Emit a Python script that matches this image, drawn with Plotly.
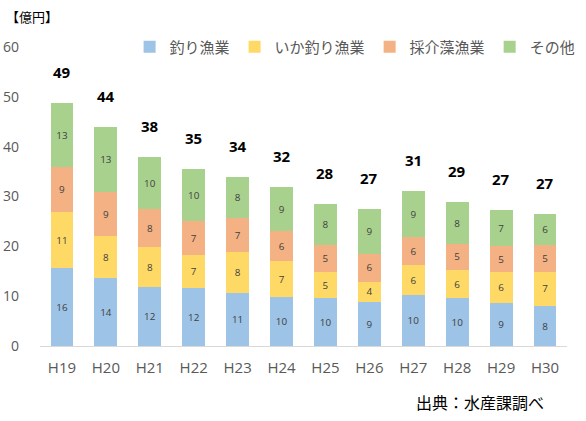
import plotly.graph_objects as go

years = ["H19", "H20", "H21", "H22", "H23", "H24", "H25", "H26", "H27", "H28", "H29", "H30"]
tsuri = [15.6, 13.7, 11.8, 11.6, 10.7, 9.9, 9.6, 8.9, 10.2, 9.6, 8.7, 8.1]
ika = [11.2, 8.3, 8.1, 6.7, 8.1, 7.1, 5.2, 4.0, 6.0, 5.7, 6.1, 6.8]
saikaiso = [9.1, 9.0, 7.6, 6.8, 6.8, 6.1, 5.4, 5.6, 5.6, 5.2, 5.2, 5.4]
sonota = [12.9, 12.9, 10.4, 10.4, 8.4, 8.8, 8.3, 8.9, 9.4, 8.4, 7.3, 6.2]
total_labels = [49, 44, 38, 35, 34, 32, 28, 27, 31, 29, 27, 27]

series = [
    ("釣り漁業", tsuri, "#9DC3E6"),
    ("いか釣り漁業", ika, "#FFD966"),
    ("採介藻漁業", saikaiso, "#F4B183"),
    ("その他", sonota, "#A9D18E"),
]

JP = "Noto Sans CJK JP"
NUM = "Open Sans"
fig = go.Figure()
for name, vals, color in series:
    fig.add_trace(go.Bar(
        x=years, y=vals, name=name, marker=dict(color=color, line=dict(width=0)),
        text=[f"{v:.0f}" for v in vals], textposition="inside", insidetextanchor="middle",
        textfont=dict(size=12, color="#404040", family=NUM),
        textangle=0,
    ))

totals = [a + b + c + d for a, b, c, d in zip(tsuri, ika, saikaiso, sonota)]
for yr, t, lab in zip(years, totals, total_labels):
    fig.add_annotation(x=yr, y=t, text=f"<b>{lab}</b>", showarrow=False,
                       yanchor="middle", yshift=31,
                       font=dict(size=15, color="#000000", family=NUM))

fig.add_annotation(xref="paper", yref="paper", x=-0.068, y=1.065, xanchor="left", yanchor="bottom",
                   text="【億円】", showarrow=False, font=dict(size=13, color="#000000", family=JP))
fig.add_annotation(xref="paper", yref="paper", x=0.96, y=-0.14, xanchor="right", yanchor="top",
                   text="出典：水産課調べ", showarrow=False, font=dict(size=16, color="#000000", family=JP))

fig.update_layout(
    width=586, height=421,
    margin=dict(l=40, r=19, t=47, b=75, autoexpand=False),
    barmode="stack", bargap=0.48,
    plot_bgcolor="white", paper_bgcolor="white",
    font=dict(family=JP, color="#595959"),
    uniformtext=dict(minsize=8, mode="show"),
    legend=dict(orientation="h", x=0.17, y=1.0, xanchor="left", yanchor="middle",
                font=dict(size=15, color="#595959", family=JP), bgcolor="rgba(0,0,0,0)",
                traceorder="normal", itemwidth=30),
    showlegend=True,
)
fig.update_yaxes(range=[0, 60], dtick=10, showgrid=False, zeroline=False, showline=False,
                 tickfont=dict(size=14, color="#595959", family=NUM), ticklabelstandoff=20)
fig.update_xaxes(showline=True, linecolor="#D9D9D9", linewidth=1, ticks="",
                 tickfont=dict(size=15, color="#595959", family=NUM), ticklabelstandoff=8)

fig.write_html("out.html", config={"displayModeBar": False},
               post_script="document.body.style.margin='0';document.body.style.overflow='hidden';")
